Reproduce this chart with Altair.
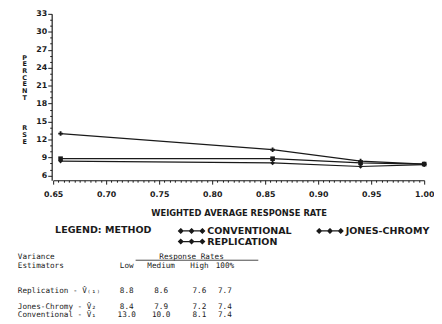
import altair as alt
import pandas as pd

# ---------------- data ----------------
methods = ["CONVENTIONAL", "REPLICATION", "JONES-CHROMY"]
markers = ["cross", "square", "diamond"]
rates = [0.657, 0.857, 0.940, 1.000]
conventional = [13.0, 10.3, 8.4, 7.9]
replication = [8.8, 8.8, 8.1, 7.9]
jones_chromy = [8.4, 8.1, 7.5, 7.8]

x_ticks = [round(0.65 + i * 0.005, 3) for i in range(71)]
y_ticks = list(range(6, 34))

# table shown under the chart
tbl_head1 = ["Variance", "Response Rates"]
tbl_head2 = ["Estimators", "Low", "Medium", "High", "100%"]
tbl_rows = ["Replication - V\u0302\u208d\u2081\u208e", "Jones-Chromy - V\u0302\u2082", "Conventional - V\u0304\u2081"]
tbl_vals = [
    ["8.8", "8.6", "7.6", "7.7"],
    ["8.4", "7.9", "7.2", "7.4"],
    ["13.0", "10.0", "8.1", "7.4"],
]
y_title_1 = list("PERCENT")
y_title_2 = list("RSE")

series = {"CONVENTIONAL": conventional, "REPLICATION": replication, "JONES-CHROMY": jones_chromy}
rows = []
for m, vals in series.items():
    for r, v in zip(rates, vals):
        rows.append({"method": m, "rate": r, "rse": v})
df = pd.DataFrame(rows)

# ---------------- layout ----------------
W, H = 378, 169.5
FONT = "DejaVu Sans"
MONO = "DejaVu Sans Mono"
INK = "#1a1a1a"
OX, OY = 54, 11  # plot origin in page pixels

major_x = "abs(datum.value*20 - round(datum.value*20)) < 0.001"
major_y = "datum.value % 3 == 0"

xenc = alt.X(
    "rate:Q",
    scale=alt.Scale(domain=[0.65, 1.0], nice=False, zero=False),
    axis=alt.Axis(
        values=x_ticks,
        tickCount=500,
        labelExpr=f"{major_x} ? format(datum.value, '.2f') : ''",
        tickSize={"condition": {"test": major_x, "value": 4}, "value": 2},
        labelOverlap=False,
        labelFlush=False,
        labelPadding=7,
        title="WEIGHTED AVERAGE RESPONSE RATE",
        titlePadding=10,
        titleFont=FONT,
        titleFontSize=8.5,
        titleFontWeight="bold",
        titleColor=INK,
        labelFont=FONT,
        labelFontSize=8,
        labelFontWeight="bold",
        labelColor=INK,
        grid=False,
        domainColor=INK,
        tickColor=INK,
        domainWidth=1.2,
    ),
)
yenc = alt.Y(
    "rse:Q",
    scale=alt.Scale(domain=[5.2, 33], nice=False, zero=False),
    axis=alt.Axis(
        values=y_ticks,
        tickCount=500,
        labelExpr=f"{major_y} ? format(datum.value, 'd') : ''",
        tickSize={"condition": {"test": major_y, "value": 4}, "value": 2},
        labelOverlap=False,
        labelPadding=1,
        offset=1.5,
        title=None,
        labelFont=FONT,
        labelFontSize=8,
        labelFontWeight="bold",
        labelColor=INK,
        grid=False,
        domainColor=INK,
        tickColor=INK,
        domainWidth=1.2,
    ),
)

sym_path = ("M-2.2,0H2.2"
            "M-2.2,-0.45L-1.75,0L-2.2,0.45L-2.65,0Z"
            "M0,-0.45L0.45,0L0,0.45L-0.45,0Z"
            "M2.2,-0.45L2.65,0L2.2,0.45L1.75,0Z")

lines = alt.Chart(df).mark_line(strokeWidth=1.2).encode(
    x=xenc,
    y=yenc,
    stroke=alt.Stroke(
        "method:N",
        scale=alt.Scale(domain=methods, range=[INK, INK, INK]),
        legend=alt.Legend(
            title="LEGEND: METHOD",
            orient="none",
            legendX=2,
            legendY=215,
            direction="vertical",
            titleOrient="left",
            titleAnchor="start",
            titleBaseline="top",
            titlePadding=34,
            columns=2,
            columnPadding=23,
            rowPadding=-1,
            padding=0,
            symbolType=sym_path,
            symbolSize=100,
            symbolStrokeWidth=1.2,
            symbolFillColor=INK,
            symbolStrokeColor=INK,
            labelOffset=10,
            labelFont=FONT,
            labelFontSize=9.7,
            labelFontWeight="bold",
            labelColor=INK,
            titleFont=FONT,
            titleFontSize=9.7,
            titleFontWeight="bold",
            titleColor=INK,
        ),
    ),
)

point_layers = [
    alt.Chart(df).transform_filter(alt.datum.method == m)
    .mark_point(filled=True, size=22, opacity=1, shape=shp, color=INK)
    .encode(x="rate:Q", y="rse:Q")
    for m, shp in zip(methods, markers)
]

# ---------------- annotation text ----------------
one = alt.Data(values=[{}])


def txt(s, x, y, align="left", size=7.8, font=MONO, weight="normal", baseline="middle", lh=None):
    kw = dict(align=align, baseline=baseline, font=font, fontSize=size, color=INK, fontWeight=weight)
    if lh is not None:
        kw["lineHeight"] = lh
    return alt.Chart(one).mark_text(**kw).encode(
        x=alt.value(x - OX), y=alt.value(y - OY), text=alt.value(s)
    )


texts = [
    txt(y_title_1, 25, 52.7, align="center", size=6.6, font=FONT, weight="bold", baseline="top", lh=6.8),
    txt(y_title_2, 25, 124.3, align="center", size=6.6, font=FONT, weight="bold", baseline="top", lh=7.3),
]

col_x = [129, 164, 203, 229]
head1_y, head2_y = 259, 268
row_y = [293.5, 310, 318]
label_x = 18

texts += [
    txt(tbl_head1[0], label_x, head1_y),
    txt(tbl_head1[1], 195, head1_y, align="center"),
    txt(tbl_head2[0], label_x, head2_y),
]
for s, cx in zip(tbl_head2[1:], col_x):
    texts.append(txt(s, cx, head2_y, align="center"))
for lab, vals, ry in zip(tbl_rows, tbl_vals, row_y):
    texts.append(txt(lab, label_x, ry))
    for s, cx in zip(vals, col_x):
        texts.append(txt(s, cx, ry, align="center"))

underline = alt.Chart(one).mark_rule(color=INK, strokeWidth=0.8).encode(
    x=alt.value(138 - OX), x2=alt.value(263 - OX), y=alt.value(262 - OY)
)

chart = alt.layer(lines, *point_layers, underline, *texts).properties(
    width=W,
    height=H,
    autosize=alt.AutoSizeParams(type="none"),
    padding={"left": 46, "top": 3, "right": 10, "bottom": 143.5},
    background="white",
).configure_view(stroke=None)

chart.save("out.html", embed_options={"renderer": "svg", "actions": False})
